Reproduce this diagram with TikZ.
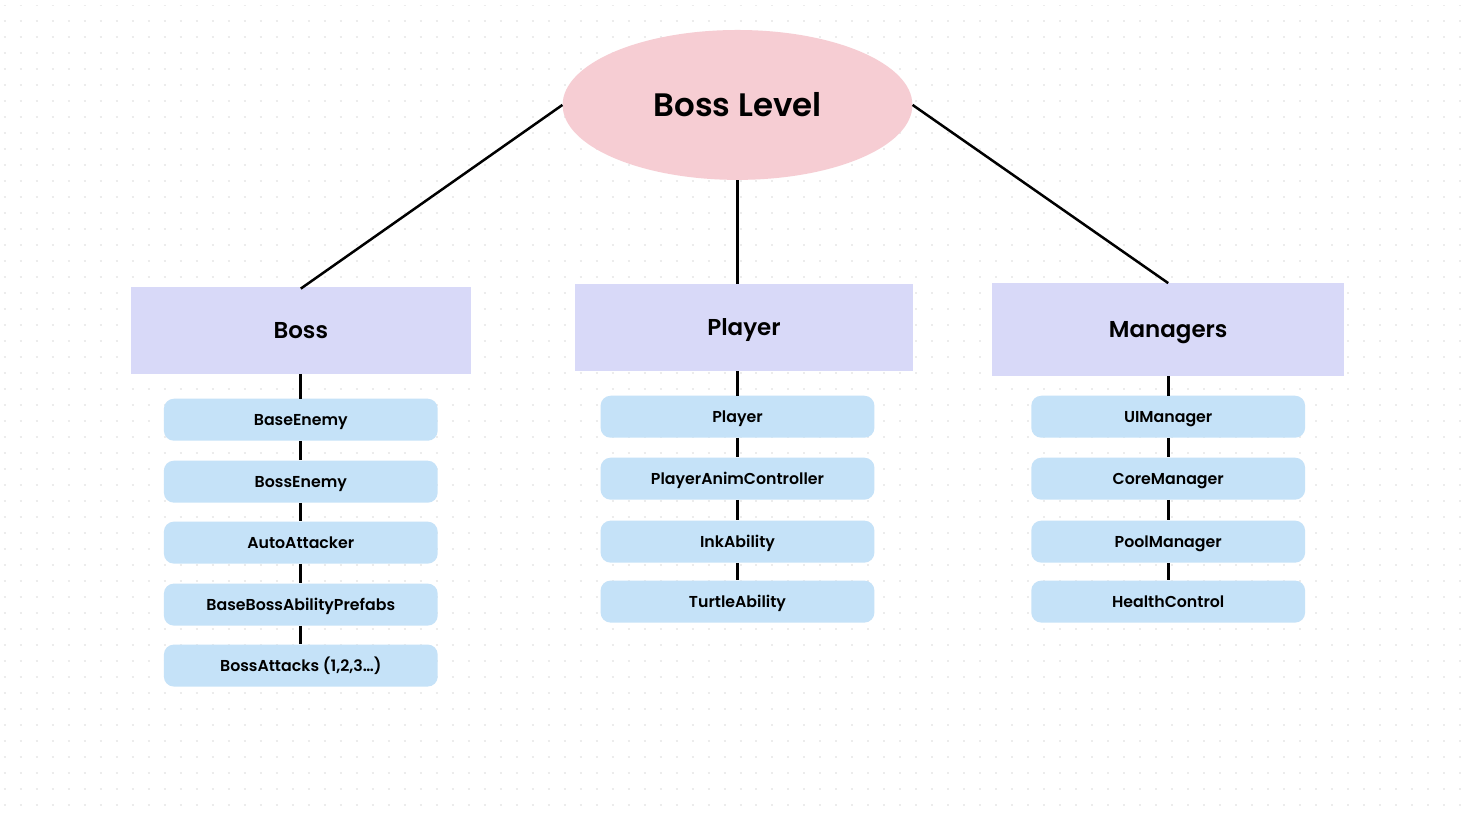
\documentclass[tikz,border=0pt]{standalone}
\usepackage{fontspec}
\setmainfont{Poppins}[BoldFont={Poppins SemiBold}]
\usetikzlibrary{shapes.geometric}
\definecolor{levelpink}{HTML}{F6CDD3}
\definecolor{grouplilac}{HTML}{D8D9F8}
\definecolor{classblue}{HTML}{C5E2F8}
\definecolor{dotgray}{HTML}{ECECEC}
\begin{document}
\begin{tikzpicture}[
    x=1pt, y=-1pt,
    level/.style={ellipse,fill=levelpink,inner sep=0pt,minimum width=350pt,minimum height=150pt,font=\bfseries\fontsize{32.5}{36}\selectfont,text height=22.7pt,text depth=0pt},
    group/.style={rectangle,fill=grouplilac,inner sep=0pt,minimum height=87pt,font=\bfseries\fontsize{23}{26}\selectfont,text height=16pt,text depth=0pt},
    class/.style={rectangle,rounded corners=10pt,fill=classblue,inner sep=0pt,minimum width=274pt,minimum height=42pt,font=\bfseries\fontsize{15.8}{18}\selectfont,text height=11pt,text depth=0pt},
    link/.style={line width=2.5pt},
    chain/.style={line width=3pt},
    dotrow/.style={dotgray,line width=2pt,dash pattern=on 2pt off 14pt}
    ]

    \fill [white] (0, 0) rectangle (1472, 820);
    \foreach \j in {0,...,50}
      \draw [dotrow] (4, 5.5+16*\j) -- (1472, 5.5+16*\j);
    \useasboundingbox (0, 0) rectangle (1472, 820);

    \node (lvl) at (738, 105) [level] {Boss Level};
    \node (boss) at (301, 330.5) [group, minimum width=340pt] {Boss};
    \node (player) at (744.5, 327.5) [group, minimum width=339pt] {Player};
    \node (mgr) at (1169, 330) [group, minimum width=352pt, minimum height=93pt] {Managers};

    \node (b1) at (301, 420) [class] {BaseEnemy};
    \node (b2) at (301, 482) [class] {BossEnemy};
    \node (b3) at (301, 543) [class] {AutoAttacker};
    \node (b4) at (301, 605) [class] {BaseBossAbilityPrefabs};
    \node (b5) at (301, 666) [class] {BossAttacks (1,2,3…)};

    \node (p1) at (738, 417) [class] {Player};
    \node (p2) at (738, 479) [class] {PlayerAnimController};
    \node (p3) at (738, 542) [class] {InkAbility};
    \node (p4) at (738, 602) [class] {TurtleAbility};

    \node (m1) at (1169, 417) [class] {UIManager};
    \node (m2) at (1169, 479) [class] {CoreManager};
    \node (m3) at (1169, 542) [class] {PoolManager};
    \node (m4) at (1169, 602) [class] {HealthControl};

    \draw [link] (lvl.west) to ([yshift=-2pt]boss.north);
    \draw [link] (lvl.south) to (lvl.south |- player.north);
    \draw [link] (lvl.east) to (mgr.north);

    \draw [chain] (boss) to (b1);
    \draw [chain] (b1) to (b2);
    \draw [chain] (b2) to (b3);
    \draw [chain] (b3) to (b4);
    \draw [chain] (b4) to (b5);
    \draw [chain] (p1.north |- player.south) to (p1.north);
    \draw [chain] (p1) to (p2);
    \draw [chain] (p2) to (p3);
    \draw [chain] (p3) to (p4);
    \draw [chain] (mgr) to (m1);
    \draw [chain] (m1) to (m2);
    \draw [chain] (m2) to (m3);
    \draw [chain] (m3) to (m4);
  \end{tikzpicture}
\end{document}
